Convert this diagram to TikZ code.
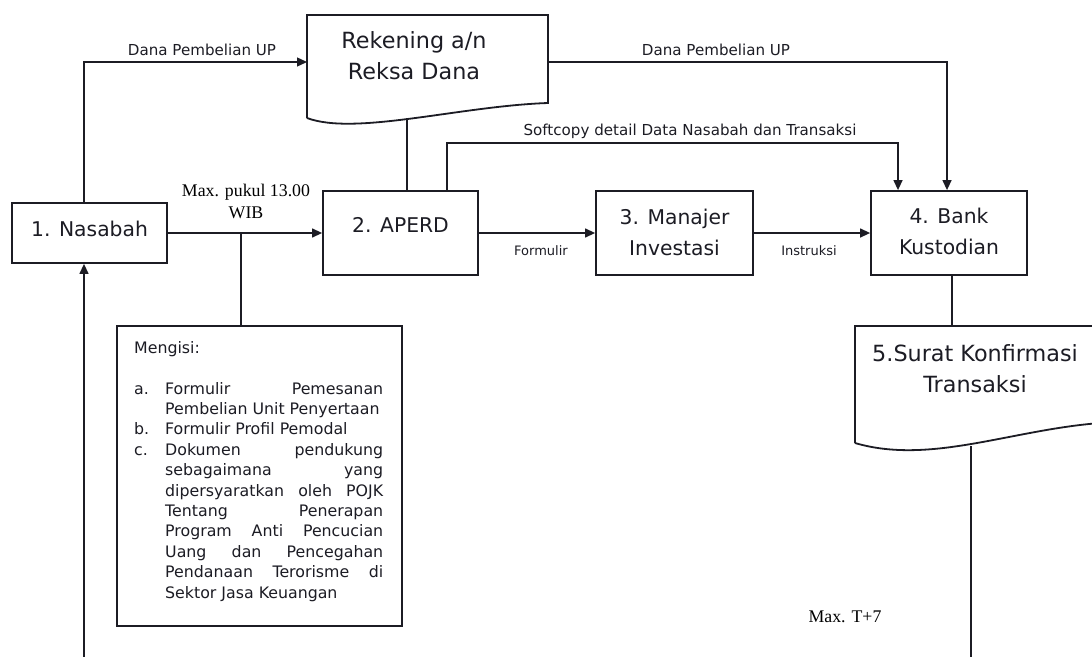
\documentclass[tikz,border=0pt]{standalone}
\usepackage{fontspec}
\usetikzlibrary{arrows.meta,calc}
\newfontfamily\tah{DejaVu Sans}
\newfontfamily\tms{Liberation Serif}
\definecolor{ink}{HTML}{1C1C24}
\begin{document}
\begin{tikzpicture}[x=1pt,y=-1pt,
  box/.style={draw=ink, line width=1.8pt, inner sep=0pt},
  boxtxt/.style={inner sep=0pt, align=center, text=ink, font=\tah\fontsize{20.3}{31}\selectfont},
  doctxt/.style={inner sep=0pt, align=center, text=ink, font=\tah\fontsize{22.3}{31}\selectfont},
  conn/.style={draw=ink, line width=1.3pt},
  arr/.style={conn, -{Triangle[length=10pt,width=9pt]}},
  lbl/.style={inner sep=0pt, text=ink, font=\tah\fontsize{15.1}{18}\selectfont},
  slbl/.style={inner sep=0pt, text=ink, font=\tah\fontsize{13}{16}\selectfont},
  tlbl/.style={inner sep=0pt, align=center, text=black, font=\tms\fontsize{17.8}{22}\selectfont}]
\useasboundingbox (0,0) rectangle (1092,656);
\fill[white] (0,0) rectangle (1092,656);
\clip (0,0) rectangle (1092,656);

% boxes
\node[box, minimum width=155pt, minimum height=60pt] (nas) at (89.5,233) {};
\node[boxtxt] (nast) at (89.5,229) {1. Nasabah};
\node[box, minimum width=155pt, minimum height=84pt] (aperd) at (400.5,233) {};
\node[boxtxt] (aperdt) at (400.5,225) {2. APERD};
\node[box, minimum width=157pt, minimum height=84pt] (man) at (674.5,233) {};
\node[boxtxt] (mant) at (674.5,232) {3. Manajer\\Investasi};
\node[box, minimum width=156pt, minimum height=84pt] (bank) at (949,233) {};
\node[boxtxt] (bankt) at (949,231) {4. Bank\\Kustodian};

% document shapes
\draw[ink, line width=1.8pt] (307,118) -- (307,15) -- (548,15) -- (548,103)
  .. controls (460,106) and (355,136) .. (307,118);
\node[doctxt] (rekt) at (414,56) {Rekening a/n\\Reksa Dana};
\draw[ink, line width=1.8pt] (855,443) -- (855,326) -- (1100,326) -- (1100,423)
  .. controls (1010,430) and (930,465) .. (855,443);
\node[doctxt] (surt) at (975,369) {5.Surat Konfirmasi\\Transaksi};

% Mengisi box
\node[draw=ink, line width=1.5pt, minimum width=285pt, minimum height=300pt, inner sep=0pt] (meng) at (259.5,476) {};
\node[anchor=north west, inner sep=0pt, align=left, text=ink, font=\tah\fontsize{15.8}{20.4}\selectfont] (mengt) at (134,341) {Mengisi:\\[20.4pt]
\makebox[31pt][l]{a.}\makebox[218pt][s]{Formulir Pemesanan}\\
\hspace*{31pt}Pembelian Unit Penyertaan\\
\makebox[31pt][l]{b.}Formulir Profil Pemodal\\
\makebox[31pt][l]{c.}\makebox[218pt][s]{Dokumen pendukung}\\
\hspace*{31pt}\makebox[218pt][s]{sebagaimana yang}\\
\hspace*{31pt}\makebox[218pt][s]{dipersyaratkan oleh POJK}\\
\hspace*{31pt}\makebox[218pt][s]{Tentang Penerapan}\\
\hspace*{31pt}\makebox[218pt][s]{Program Anti Pencucian}\\
\hspace*{31pt}\makebox[218pt][s]{Uang dan Pencegahan}\\
\hspace*{31pt}\makebox[218pt][s]{Pendanaan Terorisme di}\\
\hspace*{31pt}Sektor Jasa Keuangan};

% coordinates
\coordinate (c1) at (84,62);
\coordinate (rekL) at (307,62);
\coordinate (rekR) at (548,62);
\coordinate (c2) at (947,62);
\coordinate (rekB) at (407,118);
\coordinate (c3) at (447,143);
\coordinate (c4) at (898,143);
\coordinate (j) at (241,233);
\coordinate (c5) at (952,326);
\coordinate (c6) at (971,446);
\coordinate (c7) at (971,660);
\coordinate (c8) at (84,660);

% connectors
\draw[arr] (nas.north -| c1) -- (c1) -- (rekL);
\draw[arr] (rekR) -- (c2) -- (c2 |- bank.north);
\draw[conn] (rekB) -- (rekB |- aperd.north);
\draw[arr] (aperd.north -| c3) -- (c3) -- (c4) -- (c4 |- bank.north);
\draw[arr] (nas.east) -- (aperd.west);
\draw[conn] (j) -- (j |- meng.north);
\draw[arr] (aperd.east) -- (man.west);
\draw[arr] (man.east) -- (bank.west);
\draw[conn] (bank.south -| c5) -- (c5);
\draw[conn] (c6) -- (c7);
\draw[arr] (c8) -- (c8 |- nas.south);

% labels
\node[lbl] (l1) at (202,50) {Dana Pembelian UP};
\node[lbl] (l2) at (716,50) {Dana Pembelian UP};
\node[lbl] (l3) at (690,131) {Softcopy detail Data Nasabah dan Transaksi};
\node[tlbl] (l4) at (246,201) {Max. pukul 13.00\\WIB};
\node[slbl] (l5) at (541,251) {Formulir};
\node[slbl] (l6) at (809,251) {Instruksi};
\node[tlbl] (l7) at (845,617) {Max. T+7};
\end{tikzpicture}
\end{document}
